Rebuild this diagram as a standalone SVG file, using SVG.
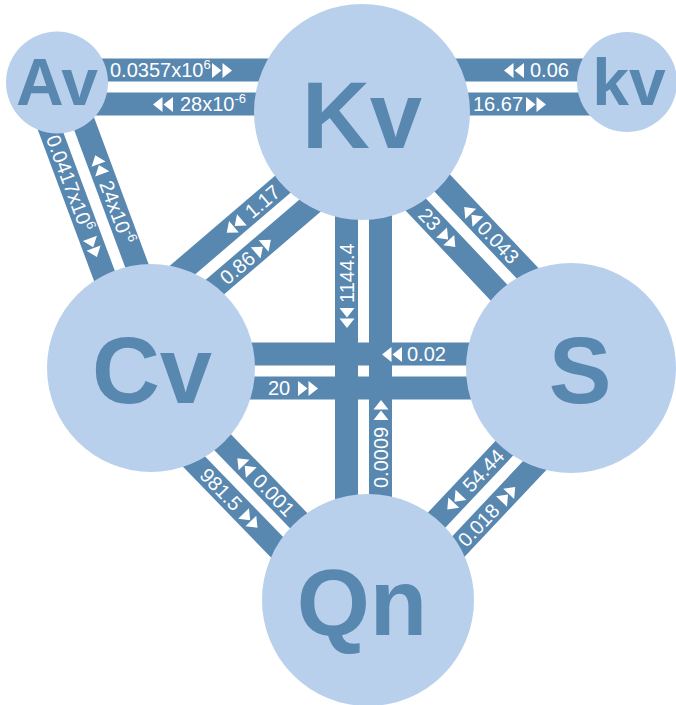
<svg xmlns="http://www.w3.org/2000/svg" width="676" height="705" viewBox="0 0 676 705">
<style>
.bar{fill:#5887b0}
.node{fill:#b9d0ec}
.name{font-family:"Liberation Sans",Arial,sans-serif;font-weight:bold;fill:#5887b0;text-anchor:middle}
.lbl{font-family:"Liberation Sans",Arial,sans-serif;font-size:20px;fill:#fff}
.sup{font-size:13px}
.arr{fill:#fff}
</style>
<defs>
<path id="fwd" d="M0,-7.5L9.5,0L0,7.5ZM10.5,-7.5L20,0L10.5,7.5Z"/>
<path id="bwd" d="M9.5,-7.5L0,0L9.5,7.5ZM20,-7.5L10.5,0L20,7.5Z"/>
</defs>
<rect width="676" height="705" fill="#fff"/>

<g id="connectors">
  <!-- Av - Kv -->
  <g id="link-av-Kv">
    <rect class="bar" x="57" y="58.5" width="305" height="23"/>
    <rect class="bar" x="57" y="92.5" width="305" height="23"/>
    <text class="lbl" x="110" y="77">0.0357x10<tspan class="sup" dy="-8">6</tspan></text>
    <use href="#fwd" class="arr" x="212" y="70.5"/>
    <use href="#bwd" class="arr" x="153" y="104.5"/>
    <text class="lbl" x="180" y="111">28x10<tspan class="sup" dy="-8">-6</tspan></text>
  </g>
  <!-- Kv - kv -->
  <g id="link-Kv-kv">
    <rect class="bar" x="362" y="58.5" width="265" height="23"/>
    <rect class="bar" x="362" y="92.5" width="265" height="23"/>
    <use href="#bwd" class="arr" x="504" y="70.5"/>
    <text class="lbl" x="530" y="77">0.06</text>
    <text class="lbl" x="473" y="111">16.67</text>
    <use href="#fwd" class="arr" x="526" y="104.5"/>
  </g>
  <!-- Av - Cv -->
  <g id="link-av-Cv" transform="translate(68.3,130) rotate(69.6)">
    <rect class="bar" x="-48" y="-28.5" width="300" height="23"/>
    <rect class="bar" x="-48" y="5.5" width="300" height="23"/>
    <text class="lbl" x="0" y="24">0.0417x10<tspan class="sup" dy="-8">6</tspan></text>
    <use href="#fwd" class="arr" x="109" y="17.5"/>
    <use href="#bwd" class="arr" x="33" y="-16.5"/>
    <text class="lbl" x="61" y="-10">24x10<tspan class="sup" dy="-8">-6</tspan></text>
  </g>
  <!-- Cv - Kv -->
  <g id="link-Cv-Kv" transform="translate(204,274) rotate(-40.55)">
    <rect class="bar" x="-101" y="-28.5" width="325" height="23"/>
    <rect class="bar" x="-101" y="5.5" width="325" height="23"/>
    <text class="lbl" x="10" y="24">0.86</text>
    <use href="#fwd" class="arr" x="53" y="17.5"/>
    <use href="#bwd" class="arr" x="44" y="-16.5"/>
    <text class="lbl" x="72" y="-10">1.17</text>
  </g>
  <!-- Kv - S -->
  <g id="link-Kv-S" transform="translate(432.3,197.3) rotate(46.6)">
    <rect class="bar" x="-108" y="-28.5" width="327" height="23"/>
    <rect class="bar" x="-108" y="5.5" width="327" height="23"/>
    <text class="lbl" x="3" y="24">23</text>
    <use href="#fwd" class="arr" x="32" y="17.5"/>
    <use href="#bwd" class="arr" x="29" y="-16.5"/>
    <text class="lbl" x="53" y="-10">0.043</text>
  </g>
  <!-- Cv - Qn -->
  <g id="link-Cv-Qn" transform="translate(212.3,456) rotate(45.9)">
    <rect class="bar" x="-106" y="-28.5" width="318" height="23"/>
    <rect class="bar" x="-106" y="5.5" width="318" height="23"/>
    <text class="lbl" x="5" y="24">981.5</text>
    <use href="#fwd" class="arr" x="63" y="17.5"/>
    <use href="#bwd" class="arr" x="19" y="-16.5"/>
    <text class="lbl" x="46" y="-10">0.001</text>
  </g>
  <!-- Qn - S -->
  <g id="link-Qn-S" transform="translate(449,531.7) rotate(-46.7)">
    <rect class="bar" x="-105" y="-28.5" width="308" height="23"/>
    <rect class="bar" x="-105" y="5.5" width="308" height="23"/>
    <text class="lbl" x="0" y="24">0.018</text>
    <use href="#fwd" class="arr" x="58" y="17.5"/>
    <use href="#bwd" class="arr" x="15" y="-16.5"/>
    <text class="lbl" x="43" y="-10">54.44</text>
  </g>
  <!-- Qn - Kv -->
  <g id="link-Qn-Kv" transform="translate(363.5,400) rotate(-90)">
    <rect class="bar" x="-200" y="-28.5" width="486" height="23"/>
    <rect class="bar" x="-200" y="5.5" width="486" height="23"/>
    <text class="lbl" x="-88" y="24">0.0009</text>
    <use href="#fwd" class="arr" x="-20" y="17.5"/>
    <use href="#bwd" class="arr" x="72" y="-16.5"/>
    <text class="lbl" x="97" y="-10">1144.4</text>
  </g>
  <!-- Cv - S -->
  <g id="link-Cv-S">
    <rect class="bar" x="151" y="342.5" width="420" height="23"/>
    <rect class="bar" x="151" y="376.5" width="420" height="23"/>
    <text class="lbl" x="268" y="395">20</text>
    <use href="#fwd" class="arr" x="298" y="388.5"/>
    <use href="#bwd" class="arr" x="382" y="354.5"/>
    <text class="lbl" x="407" y="361">0.02</text>
  </g>
</g>

<g id="node-av">
  <circle class="node" cx="57" cy="82.5" r="51"/>
  <text class="name" x="57" y="105" font-size="66">Av</text>
</g>
<g id="node-Kv">
  <circle class="node" cx="362" cy="112" r="108"/>
  <text class="name" x="362" y="148" font-size="94">Kv</text>
</g>
<g id="node-kv">
  <circle class="node" cx="627" cy="82" r="50"/>
  <text class="name" x="629" y="105" font-size="66">kv</text>
</g>
<g id="node-Cv">
  <circle class="node" cx="151" cy="368" r="104"/>
  <text class="name" x="152" y="403" font-size="94">Cv</text>
</g>
<g id="node-S">
  <circle class="node" cx="571" cy="368" r="105"/>
  <text class="name" x="580" y="403" font-size="94">S</text>
</g>
<g id="node-Qn">
  <circle class="node" cx="368" cy="600" r="106"/>
  <text class="name" x="362" y="635" font-size="94">Qn</text>
</g>
</svg>
